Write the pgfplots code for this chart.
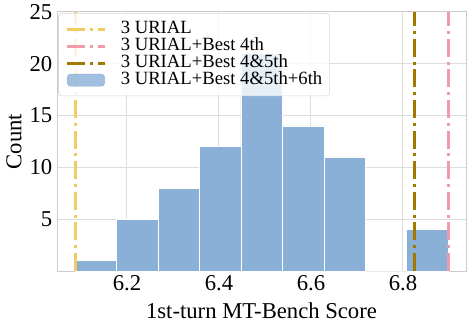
\documentclass[border=0pt]{standalone}
\usepackage{fontspec}
\setmainfont{Liberation Serif}
\usepackage{pgfplots}
\pgfplotsset{compat=1.18}
\usetikzlibrary{calc}
\definecolor{cyel}{RGB}{242,204,98}
\definecolor{cpink}{RGB}{240,155,170}
\definecolor{cgold}{RGB}{162,121,0}
\definecolor{cblue}{RGB}{138,176,216}
\tikzset{ddash/.style={line width=2.25pt, dash pattern=on 13.5pt off 3.6pt on 2.25pt off 3.6pt}}
\begin{document}
\begin{tikzpicture}
\begin{axis}[
  scale only axis, width=306.75pt, height=194.25pt,
  xmin=6.048, xmax=6.937, ymin=0, ymax=25,
  xtick={6.2,6.4,6.6,6.8}, ytick={5,10,15,20,25},
  xticklabels={\textrm{6.2},\textrm{6.4},\textrm{6.6},\textrm{6.8}},
  yticklabels={\textrm{5},\textrm{10},\textrm{15},\textrm{20},\textrm{25}},
  tick label style={font=\fontsize{17}{19}\selectfont},
  label style={font=\fontsize{17}{19}\selectfont},
  xlabel={1st-turn MT-Bench Score}, ylabel={Count},
  xlabel style={at={(axis description cs:0.5,-0.1815)}, anchor=base},
  ylabel style={at={(axis description cs:-0.105,0.5)}, anchor=center, rotate=0},
  grid=major, grid style={black!13, line width=0.75pt},
  axis line style={black!20, line width=0.75pt},
  major tick length=0pt,
  legend cell align=left,
  legend style={at={(axis description cs:0.003,0.996)}, anchor=north west,
    draw=black!16, fill=white, fill opacity=0.8, text opacity=1, rounded corners=2.5pt,
    font=\fontsize{14}{15}\selectfont, row sep=0pt, inner xsep=5.5pt, inner ysep=5.5pt,
    nodes={inner sep=0pt, text height=9.5pt, text depth=3.25pt}},
]
\addplot[ybar interval, fill=cblue, draw=white, line width=0.5pt, forget plot] coordinates {
  (6.0875,1) (6.1776,5) (6.2677,8) (6.3578,12) (6.4479,21) (6.5380,14) (6.6281,11) (6.7182,0) (6.8083,4) (6.8984,4)};
\addplot[ddash, color=cyel, legend image code/.code={\draw[ddash, cyel] (0pt,0pt) -- (28pt,0pt); \path (39pt,0pt);}] coordinates {(6.0875,0) (6.0875,25)};
\addlegendentry{3 URIAL}
\addplot[ddash, color=cpink, legend image code/.code={\draw[ddash, cpink] (0pt,0pt) -- (28pt,0pt); \path (39pt,0pt);}] coordinates {(6.8984,0) (6.8984,25)};
\addlegendentry{3 URIAL+Best 4th}
\addplot[ddash, color=cgold, legend image code/.code={\draw[ddash, cgold] (0pt,0pt) -- (28pt,0pt); \path (39pt,0pt);}] coordinates {(6.8240,0) (6.8240,25)};
\addlegendentry{3 URIAL+Best 4\&5th}
\addlegendimage{legend image code/.code={\fill[cblue] (0pt,-4.5pt) rectangle (28pt,4.5pt); \path (39pt,0pt);}}
\addlegendentry{3 URIAL+Best 4\&5th+6th}
\end{axis}
\pgfresetboundingbox
\path ($(current axis.south west)+(-42.75pt,-42pt)$) rectangle ($(current axis.north east)+(4.5pt,9pt)$);
\end{tikzpicture}
\end{document}
